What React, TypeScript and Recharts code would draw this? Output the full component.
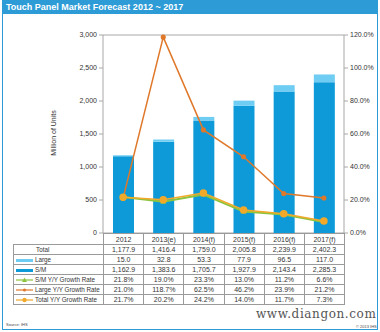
import { Bar, ComposedChart, Line, XAxis, YAxis, CartesianGrid } from 'recharts';

const years = ['2012', '2013(e)', '2014(f)', '2015(f)', '2016(f)', '2017(f)'];
const total = [1177.9, 1416.4, 1759.0, 2005.8, 2239.9, 2402.3];
const large = [15.0, 32.8, 53.3, 77.9, 96.5, 117.0];
const sm = [1162.9, 1383.6, 1705.7, 1927.9, 2143.4, 2285.3];
const smGrowth = [21.8, 19.0, 23.3, 13.0, 11.2, 6.6];
const largeGrowth = [21.0, 118.7, 62.5, 46.2, 23.9, 21.2];
const totalGrowth = [21.7, 20.2, 24.2, 14.0, 11.7, 7.3];

const unitTicks = [0, 500, 1000, 1500, 2000, 2500, 3000];
const rateTicks = [0, 20, 40, 60, 80, 100, 120];

const LIGHT = '#6FCDF3';
const DARK = '#0E9AD8';
const GREEN = '#8CC43F';
const ORANGE = '#E0782A';
const GOLD = '#F2A92A';
const FRAME = '#2D9BD6';
const FONT = '"Liberation Sans", Arial, sans-serif';

const data = years.map((y, i) => ({
  year: y,
  sm: sm[i],
  large: large[i],
  smGrowth: smGrowth[i],
  largeGrowth: largeGrowth[i],
  totalGrowth: totalGrowth[i],
}));

const fmtNum = (v: number) => v.toLocaleString('en-US', { minimumFractionDigits: 1, maximumFractionDigits: 1 });
const fmtPct = (v: number) => v.toFixed(1) + '%';

const Triangle = (props: any) => {
  const { cx, cy } = props;
  if (cx == null) return null;
  return <path d={`M${cx},${cy - 3}L${cx + 3},${cy + 2}L${cx - 3},${cy + 2}Z`} fill={GREEN} />;
};

const swatch = (kind: string) => {
  if (kind === 'bar-light') return <span style={{ display: 'inline-block', width: 17, height: 3, background: LIGHT, marginRight: 2, verticalAlign: 'middle' }} />;
  if (kind === 'bar-dark') return <span style={{ display: 'inline-block', width: 17, height: 3, background: DARK, marginRight: 2, verticalAlign: 'middle' }} />;
  const color = kind === 'green' ? GREEN : kind === 'orange' ? ORANGE : GOLD;
  return (
    <svg width={17} height={6} style={{ marginRight: 2, verticalAlign: 'middle' }}>
      <line x1={0} y1={3} x2={17} y2={3} stroke={color} strokeWidth={1.2} />
      {kind === 'green' ? <path d="M8.5,0.5L11,5L6,5Z" fill={color} /> : <circle cx={8.5} cy={3} r={kind === 'gold' ? 2.2 : 1.6} fill={color} />}
    </svg>
  );
};

const rows = [
  { label: 'Total', kind: '', values: total.map(fmtNum) },
  { label: 'Large', kind: 'bar-light', values: large.map(fmtNum) },
  { label: 'S/M', kind: 'bar-dark', values: sm.map(fmtNum) },
  { label: 'S/M Y/Y Growth Rate', kind: 'green', values: smGrowth.map(fmtPct) },
  { label: 'Large Y/Y Growth Rate', kind: 'orange', values: largeGrowth.map(fmtPct) },
  { label: 'Total Y/Y Growth Rate', kind: 'gold', values: totalGrowth.map(fmtPct) },
];

const cell: React.CSSProperties = {
  border: '1px solid #9a9a9a',
  padding: 0,
  height: 9,
  lineHeight: '9px',
  textAlign: 'center',
  fontSize: 7,
  color: '#333',
  whiteSpace: 'nowrap',
  overflow: 'hidden',
};

export default function App() {
  return (
    <div style={{ position: 'absolute', left: 0, top: 0, width: 380, height: 332, background: '#fff', fontFamily: FONT }}>
      <div style={{ position: 'absolute', left: 2, top: 0, width: 374, height: 328, border: `1px solid ${FRAME}` }} />
      <div style={{ position: 'absolute', left: 2, top: 0, width: 376, height: 14, background: FRAME, color: '#fff', fontWeight: 'bold', fontSize: 9, lineHeight: '14px', paddingLeft: 4, boxSizing: 'border-box' }}>
        Touch Panel Market Forecast 2012 ~ 2017
      </div>
      <div style={{ position: 'absolute', left: 0, top: 0 }}>
        <ComposedChart width={380} height={240} data={data} margin={{ top: 35, right: 0, bottom: 7, left: 0 }} barSize={21}>
          <CartesianGrid vertical={false} stroke="#a8a8a8" />
          <XAxis dataKey="year" hide />
          <YAxis
            yAxisId="u"
            width={103}
            domain={[0, 3000]}
            ticks={unitTicks}
            tickFormatter={(v: number) => v.toLocaleString('en-US')}
            tick={{ fontSize: 7, fill: '#333', fontFamily: FONT }}
            tickSize={4}
            tickLine={{ stroke: '#a8a8a8' }}
            axisLine={{ stroke: '#a8a8a8' }}
          />
          <YAxis
            yAxisId="r"
            orientation="right"
            width={36}
            domain={[0, 120]}
            ticks={rateTicks}
            tickFormatter={(v: number) => v.toFixed(1) + '%'}
            tick={{ fontSize: 7, fill: '#333', fontFamily: FONT }}
            tickSize={4}
            tickLine={{ stroke: '#a8a8a8' }}
            axisLine={{ stroke: '#a8a8a8' }}
          />
          <Bar yAxisId="u" dataKey="sm" stackId="s" fill={DARK} isAnimationActive={false} />
          <Bar yAxisId="u" dataKey="large" stackId="s" fill={LIGHT} isAnimationActive={false} />
          <Line yAxisId="r" dataKey="largeGrowth" stroke={ORANGE} strokeWidth={1.5} dot={{ r: 1.8, fill: ORANGE, stroke: ORANGE }} isAnimationActive={false} />
          <Line yAxisId="r" dataKey="smGrowth" stroke={GREEN} strokeWidth={2} dot={<Triangle />} isAnimationActive={false} />
          <Line yAxisId="r" dataKey="totalGrowth" stroke={GOLD} strokeWidth={1.5} dot={{ r: 3, fill: GOLD, stroke: GOLD }} isAnimationActive={false} />
        </ComposedChart>
      </div>
      <div style={{ position: 'absolute', left: 53, top: 133, transform: 'translate(-50%,-50%) rotate(-90deg)', fontSize: 7, color: '#333', whiteSpace: 'nowrap' }}>
        Million of Units
      </div>
      <table style={{ position: 'absolute', left: 13, top: 233, width: 332, borderCollapse: 'collapse', tableLayout: 'fixed' }}>
        <colgroup>
          <col style={{ width: 90 }} />
          {years.map((y) => <col key={y} style={{ width: 40.2 }} />)}
        </colgroup>
        <tbody>
          <tr>
            <td style={{ ...cell, border: 'none', height: 10 }} />
            {years.map((y) => <td key={y} style={{ ...cell, height: 10 }}>{y}</td>)}
          </tr>
          {rows.map((r) => (
            <tr key={r.label}>
              <td style={{ ...cell, textAlign: 'left', fontSize: 6.3, paddingLeft: r.kind ? 2 : 22 }}>
                {r.kind ? swatch(r.kind) : null}
                {r.label}
              </td>
              {r.values.map((v, i) => <td key={i} style={cell}>{v}</td>)}
            </tr>
          ))}
        </tbody>
      </table>
      <div style={{ position: 'absolute', left: 6, top: 322, fontSize: 4, color: '#444' }}>Source: IHS</div>
      <div style={{ position: 'absolute', left: 356, top: 324, fontSize: 4, color: '#444' }}>© 2013 IHS</div>
      <div style={{ position: 'absolute', left: 256, top: 307, fontSize: 12, fontFamily: '"DejaVu Serif", serif', color: '#555', letterSpacing: 0.6, whiteSpace: 'nowrap' }}>
        www.diangon.com
      </div>
    </div>
  );
}
